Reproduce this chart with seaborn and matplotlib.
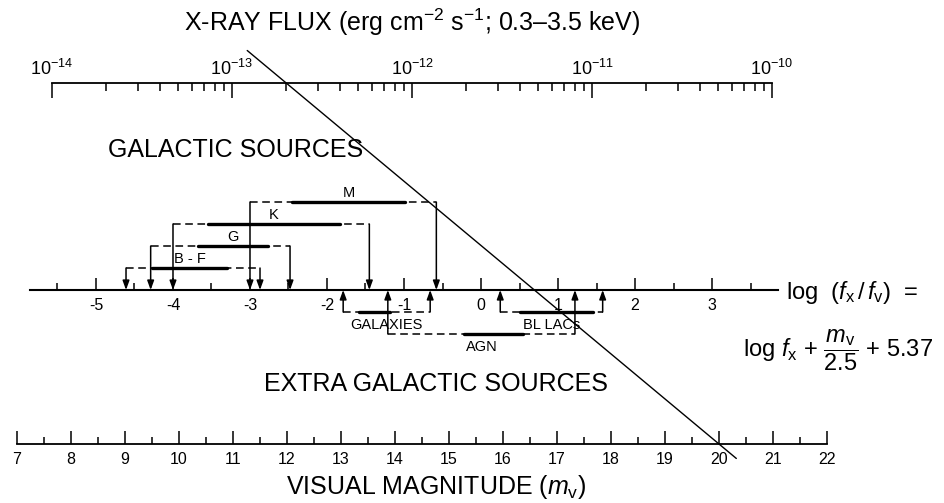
import numpy as np
import pandas as pd
import matplotlib
matplotlib.use("Agg")
import matplotlib.pyplot as plt
from matplotlib.lines import Line2D
from matplotlib.ticker import FixedLocator, FixedFormatter, LogLocator, NullFormatter
import seaborn as sns

# ---- data: log(fx/fv) ranges (dashed = full extent, solid = bulk of sources)
galactic_classes = ["B - F", "G", "K", "M"]
galactic_full_lo = [-4.61, -4.29, -4.00, -3.00]
galactic_full_hi = [-2.87, -2.48, -1.45, -0.58]
galactic_core_lo = [-4.27, -3.68, -3.55, -2.45]
galactic_core_hi = [-3.30, -2.77, -1.83, -0.99]

extragalactic_classes = ["GALAXIES", "AGN", "BL LACs"]
extragalactic_full_lo = [-1.79, -1.21, 0.25]
extragalactic_full_hi = [-0.66, 1.22, 1.58]
extragalactic_core_lo = [-1.58, -0.22, 0.51]
extragalactic_core_hi = [-1.18, 0.55, 1.45]

ratio_ticks = [-5, -4, -3, -2, -1, 0, 1, 2, 3]
ratio_ticklabels = ["-5", "-4", "-3", "-2", "-1", "0", "1", "2", "3"]
flux_decades = [1e-14, 1e-13, 1e-12, 1e-11, 1e-10]
flux_ticklabels = [r"$10^{-14}$", r"$10^{-13}$", r"$10^{-12}$", r"$10^{-11}$", r"$10^{-10}$"]
magnitudes = list(range(7, 23))
magnitude_ticklabels = [str(m) for m in magnitudes]

# constant-ratio line: fx = 2e-13 erg cm^-2 s^-1 at mv = 20
line_flux = 2e-13
line_mag = 20

# ---- style
sns.set_style("white")
plt.rcParams["font.family"] = ["Liberation Sans", "DejaVu Sans"]
plt.rcParams.update({
    "mathtext.fontset": "custom",
    "mathtext.rm": "Liberation Sans",
    "mathtext.it": "Liberation Sans:italic",
    "mathtext.bf": "Liberation Sans:bold",
    "axes.edgecolor": "black",
    "xtick.color": "black",
    "ytick.color": "black",
    "text.color": "black",
    "axes.labelcolor": "black",
    "xtick.bottom": True,
})

W, H = 945, 503
fig = plt.figure(figsize=(W / 100, H / 100), dpi=100)


def px(x, y):
    """pixel position (from top-left) -> figure fraction"""
    return x / W, 1 - y / H


# ---- middle axis: log(fx/fv) with the source ranges
row_px = 22.0
axis_y = 290
ylo, yhi = -2.7, 5.0
ax = fig.add_axes([30 / W, 1 - (axis_y - ylo * row_px) / H, 748 / W, (yhi - ylo) * row_px / H])
ax.set_facecolor("none")

gal_rows = [1, 2, 3, 4]
ext_rows = [-1, -2, -1]


def segments(names, lo, hi, rows):
    recs = []
    for n, a, b, r in zip(names, lo, hi, rows):
        recs.append({"source": n, "x": a, "row": r})
        recs.append({"source": n, "x": b, "row": r})
    return pd.DataFrame(recs)


full_df = pd.concat([
    segments(galactic_classes, galactic_full_lo, galactic_full_hi, gal_rows),
    segments(extragalactic_classes, extragalactic_full_lo, extragalactic_full_hi, ext_rows),
])
core_df = pd.concat([
    segments(galactic_classes, galactic_core_lo, galactic_core_hi, gal_rows),
    segments(extragalactic_classes, extragalactic_core_lo, extragalactic_core_hi, ext_rows),
])

sns.lineplot(data=full_df, x="x", y="row", units="source", estimator=None, sort=False,
             color="black", lw=1.1, linestyle=(0, (5, 3)), legend=False, ax=ax)
sns.lineplot(data=core_df, x="x", y="row", units="source", estimator=None, sort=False,
             color="black", lw=2.4, legend=False, ax=ax)

ax.set_xlim(-5.857, 3.857)
ax.set_ylim(ylo, yhi)
for s in ["left", "right", "top"]:
    ax.spines[s].set_visible(False)
ax.spines["bottom"].set_position(("data", 0))
ax.spines["bottom"].set_linewidth(1.5)
ax.xaxis.set_major_locator(FixedLocator(ratio_ticks))
ax.xaxis.set_major_formatter(FixedFormatter(ratio_ticklabels))
ax.xaxis.set_minor_locator(FixedLocator(np.arange(-5.5, 4.0, 1.0)))
ax.tick_params(axis="x", which="major", direction="in", length=8.5, width=1.1, pad=6,
               labelsize=11.5, bottom=True)
ax.tick_params(axis="x", which="minor", direction="in", length=5, width=1.1, bottom=True)
ax.set_yticks([])
ax.set_xlabel("")
ax.set_ylabel("")

arrow_kw = dict(arrowstyle="-|>,head_length=0.55,head_width=0.2", color="black",
                lw=1.1, shrinkA=0, shrinkB=0, mutation_scale=10)


def drop_arrows(lo, hi, rows):
    for a, b, r in zip(lo, hi, rows):
        for xv in (a, b):
            ax.annotate("", xy=(xv, 0), xytext=(xv, r), arrowprops=arrow_kw)


drop_arrows(galactic_full_lo, galactic_full_hi, gal_rows)
drop_arrows(extragalactic_full_lo, extragalactic_full_hi, ext_rows)

for n, a, b, r in zip(galactic_classes, galactic_core_lo, galactic_core_hi, gal_rows):
    ax.annotate(n, xy=((a + b) / 2, r), xytext=(0, 3.3), textcoords="offset points",
                ha="center", va="baseline", fontsize=10.5)
for n, a, b, r in zip(extragalactic_classes, extragalactic_full_lo, extragalactic_full_hi, ext_rows):
    ax.annotate(n, xy=((a + b) / 2, r), xytext=(0, -12.5), textcoords="offset points",
                ha="center", va="baseline", fontsize=10.5)

# ---- top axis: X-ray flux
ax_top = fig.add_axes([52 / W, 1 - 83 / H - 0.01, 720 / W, 0.01])
ax_top.set_facecolor("none")
ax_top.set_xscale("log")
ax_top.set_xlim(1e-14, 1e-10)
ax_top.set_ylim(0, 1)
for s in ["left", "right", "bottom"]:
    ax_top.spines[s].set_visible(False)
ax_top.spines["top"].set_linewidth(1.3)
ax_top.xaxis.set_ticks_position("top")
ax_top.xaxis.set_major_locator(FixedLocator(flux_decades))
ax_top.xaxis.set_major_formatter(FixedFormatter(flux_ticklabels))
ax_top.xaxis.set_minor_locator(LogLocator(base=10, subs=np.arange(2, 10)))
ax_top.xaxis.set_minor_formatter(NullFormatter())
ax_top.tick_params(axis="x", which="major", direction="in", length=10.8, width=1.1, pad=3,
                   labelsize=13, top=True, bottom=False, labeltop=True, labelbottom=False)
ax_top.tick_params(axis="x", which="minor", direction="in", length=5.8, width=1.1,
                   top=True, bottom=False)
ax_top.set_yticks([])
ax_top.xaxis.set_label_position("top")
ax_top.set_xlabel(r"X-RAY FLUX (erg cm$^{-2}$ s$^{-1}$; 0.3–3.5 keV)", fontsize=18, labelpad=20)

# ---- bottom axis: visual magnitude
ax_bot = fig.add_axes([17 / W, 1 - 444 / H, 810 / W, 0.01])
ax_bot.set_facecolor("none")
ax_bot.set_xlim(7, 22)
ax_bot.set_ylim(0, 1)
for s in ["left", "right", "top"]:
    ax_bot.spines[s].set_visible(False)
ax_bot.spines["bottom"].set_linewidth(1.3)
ax_bot.xaxis.set_major_locator(FixedLocator(magnitudes))
ax_bot.xaxis.set_major_formatter(FixedFormatter(magnitude_ticklabels))
ax_bot.xaxis.set_minor_locator(FixedLocator(np.arange(7.5, 22, 1.0)))
ax_bot.tick_params(axis="x", which="major", direction="in", length=9.4, width=1.1, pad=6,
                   labelsize=11.5, bottom=True)
ax_bot.tick_params(axis="x", which="minor", direction="in", length=5, width=1.1, bottom=True)
ax_bot.set_yticks([])
ax_bot.set_xlabel(r"VISUAL MAGNITUDE ($m_\mathregular{v}$)", fontsize=18, labelpad=4)
ax_bot.xaxis.label.set_x((436 - 17) / 810)

# ---- constant log(fx/fv) line joining the flux and magnitude scales
inv = fig.transFigure.inverted()
A = inv.transform(ax_top.transData.transform((line_flux, 1)))
B = inv.transform(ax_bot.transData.transform((line_mag, 0)))
d = A - B
start = A + 0.09 * d
end = B - 0.04 * d
fig.add_artist(Line2D([start[0], end[0]], [start[1], end[1]], color="black", lw=1.0,
                      transform=fig.transFigure))

# ---- annotations
fig.text(*px(236, 150), "GALACTIC SOURCES", ha="center", va="center", fontsize=18)
fig.text(*px(436, 384), "EXTRA GALACTIC SOURCES", ha="center", va="center", fontsize=18)
fig.text(*px(786, 292), r"log  $(f_\mathregular{x}\,/\,f_\mathregular{v})$  =",
         ha="left", va="center", fontsize=17)
fig.text(*px(743, 350), r"log $f_\mathregular{x}$ + $\dfrac{m_\mathregular{v}}{2.5}$ + 5.37",
         ha="left", va="center", fontsize=17)

fig.savefig("out.png", dpi=100)
